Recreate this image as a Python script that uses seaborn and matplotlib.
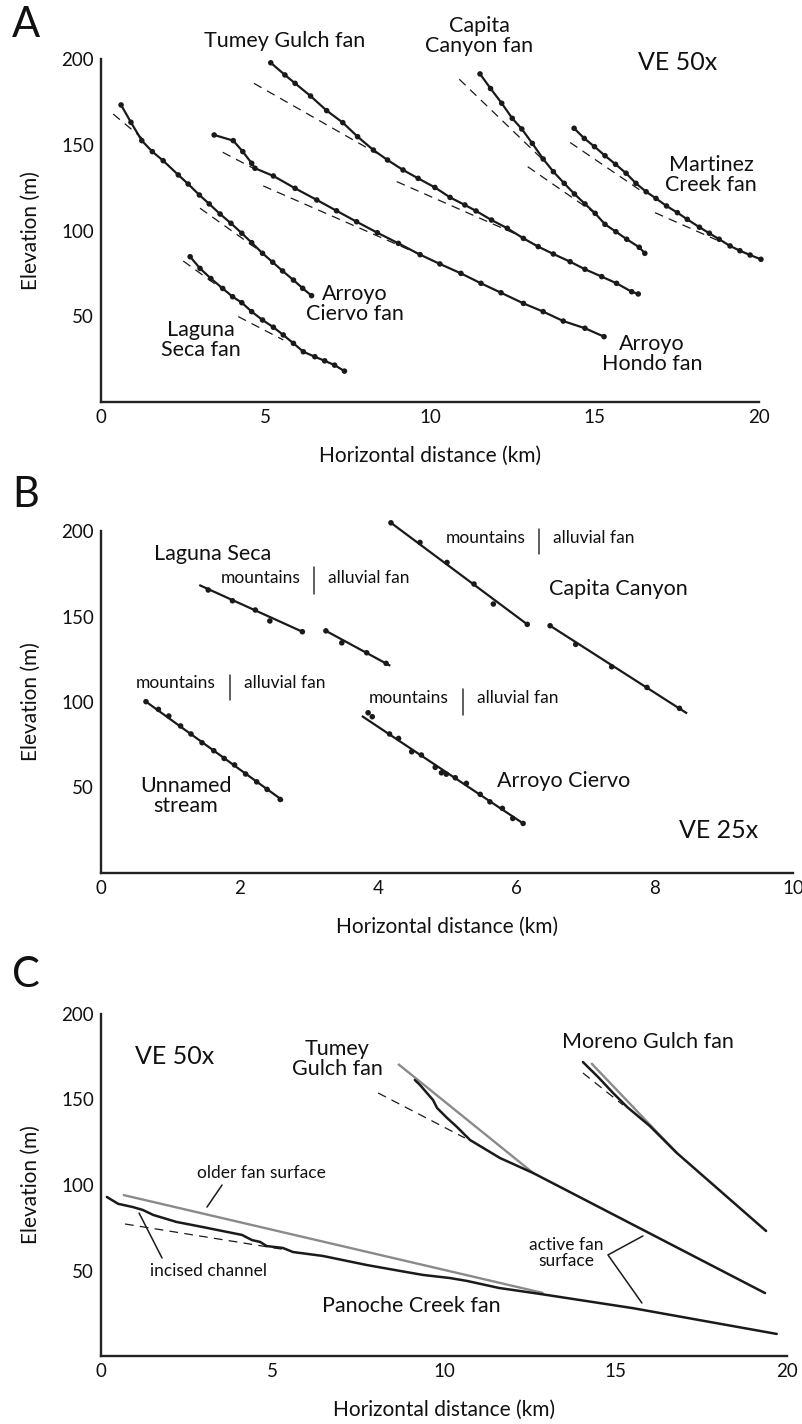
import matplotlib
matplotlib.use("Agg")
import matplotlib.pyplot as plt
import seaborn as sns
import pandas as pd

sns.set_theme(style="white")
plt.rcParams['font.family'] = ['Lato', 'DejaVu Sans']

INK = '#1a1a1a'
GREY = '#8a8a8a'

# ---------------- Panel A: longitudinal fan profiles (VE 50x) ----------------
tumey_a_x = [5.16, 5.59, 5.9, 6.37, 6.86, 7.35, 7.8, 8.28, 8.71, 9.18, 9.64, 10.15, 10.61,
             11.06, 11.4, 11.87, 12.35, 12.84, 13.29, 13.75, 14.26, 14.71, 15.22, 15.67, 16.13, 16.33]
tumey_a_y = [197.8, 190.7, 185.8, 178.4, 169.9, 162.9, 154.7, 146.9, 141.1, 135.3, 130.4, 125.1, 119.3,
             114.9, 111.4, 106.1, 101.3, 95.4, 90.6, 86.3, 81.8, 77.4, 73.1, 69.2, 64.3, 63.0]
capita_a_x = [11.52, 11.84, 12.18, 12.5, 12.79, 13.11, 13.44, 13.75, 14.08, 14.39, 14.71, 15.02,
              15.32, 15.65, 15.98, 16.36, 16.53]
capita_a_y = [191.3, 182.8, 174.2, 165.4, 159.2, 150.8, 141.7, 134.3, 127.5, 121.3, 115.5, 110.0,
              103.6, 99.3, 94.9, 90.2, 86.7]
martinez_x = [14.38, 14.69, 15.0, 15.32, 15.64, 15.96, 16.26, 16.57, 16.87, 17.19, 17.52, 17.82,
              18.19, 18.49, 18.79, 19.12, 19.42, 19.73, 20.06]
martinez_y = [159.6, 153.7, 148.9, 143.6, 138.6, 133.4, 127.5, 122.6, 118.7, 114.3, 110.4, 106.5,
              101.9, 98.4, 94.9, 91.0, 88.2, 85.7, 83.2]
ciervo_a_x = [0.61, 0.91, 1.24, 1.56, 1.89, 2.35, 2.65, 2.99, 3.29, 3.62, 3.95, 4.28, 4.58, 4.91,
              5.22, 5.52, 5.85, 6.13, 6.4]
ciervo_a_y = [173.2, 163.1, 152.4, 146.0, 140.7, 132.4, 127.1, 120.7, 115.5, 109.6, 104.2, 98.4,
              92.9, 86.7, 81.5, 76.4, 71.1, 66.3, 62.0]
laguna_a_x = [2.71, 3.01, 3.34, 3.7, 4.0, 4.28, 4.58, 4.91, 5.24, 5.54, 5.85, 6.15, 6.5, 6.8, 7.1, 7.4]
laguna_a_y = [84.7, 77.9, 72.0, 66.2, 61.4, 57.9, 52.7, 47.8, 43.6, 39.1, 34.2, 29.3, 26.4, 24.0, 21.5, 18.0]
hondo_x = [3.44, 4.02, 4.31, 4.58, 4.68, 5.24, 5.9, 6.56, 7.16, 7.77, 8.4, 9.04, 9.7, 10.3, 10.94,
           11.55, 12.16, 12.84, 13.44, 14.05, 14.71, 15.29]
hondo_y = [155.7, 152.4, 146.0, 139.2, 136.3, 131.8, 124.6, 117.8, 111.5, 105.1, 98.7, 92.5, 85.9,
           80.5, 75.0, 69.2, 63.7, 57.5, 52.7, 47.2, 43.0, 38.1]

# straight-segment gradients fitted to the upper and lower reaches (x0, y0, x1, y1)
fits_a = [
    (0.37, 167.9, 1.24, 154.0), (3.01, 113.0, 4.93, 86.7),
    (2.5, 82.2, 3.72, 65.3), (4.17, 49.8, 5.54, 36.2),
    (3.7, 145.6, 4.63, 136.3), (4.93, 126.0, 9.8, 85.1),
    (4.65, 185.8, 8.38, 145.0), (8.99, 128.5, 12.79, 96.4),
    (10.89, 188.2, 13.44, 141.1), (12.97, 137.2, 15.17, 108.0),
    (14.26, 151.3, 16.38, 123.6), (16.84, 110.4, 18.71, 94.5),
]

# ---------------- Panel B: stream profiles across the range front (VE 25x) ----------------
unnamed_x = [0.65, 0.83, 0.98, 1.15, 1.3, 1.46, 1.63, 1.78, 1.93, 2.09, 2.25, 2.4, 2.59]
unnamed_y = [100.2, 95.7, 91.8, 86.0, 81.3, 76.2, 71.5, 67.0, 63.2, 57.9, 53.3, 48.9, 43.0]
laguna_b1_x = [1.55, 1.9, 2.23, 2.44, 2.91]
laguna_b1_y = [165.5, 159.2, 153.8, 147.4, 141.1]
laguna_b2_x = [3.25, 3.48, 3.84, 4.12]
laguna_b2_y = [141.6, 134.6, 128.8, 122.6]
ciervo_b_x = [3.86, 3.92, 4.17, 4.3, 4.49, 4.63, 4.83, 4.92, 4.99, 5.12, 5.28, 5.48, 5.62, 5.8, 5.95, 6.1]
ciervo_b_y = [93.7, 91.4, 81.3, 78.7, 70.9, 69.0, 61.8, 58.6, 57.8, 55.7, 52.4, 46.0, 41.6, 37.8, 31.9, 29.0]
capita_b1_x = [4.19, 4.61, 5.0, 5.39, 5.67, 6.16]
capita_b1_y = [204.8, 193.3, 181.6, 169.0, 157.3, 145.4]
capita_b2_x = [6.49, 6.86, 7.38, 7.89, 8.36]
capita_b2_y = [144.6, 133.7, 120.6, 108.5, 96.3]

# regression lines through each reach (x0, y0, x1, y1)
fits_b = [
    (0.65, 100.2, 2.63, 42.3),
    (1.42, 168.4, 2.91, 141.1),
    (3.25, 141.6, 4.18, 121.2),
    (3.77, 91.8, 6.1, 29.0),
    (4.19, 204.8, 6.16, 145.4),
    (6.49, 144.6, 8.47, 93.3),
]
# mountain / fan boundary markers: (x, y_bottom, y_top)
fronts_b = [(3.08, 163.2, 178.9), (1.86, 101.2, 115.8), (6.33, 186.5, 201.2), (5.23, 92.4, 107.6)]
front_text_y = [172.5, 111.1, 195.9, 102.3]

# ---------------- Panel C: incised and active fan surfaces (VE 50x) ----------------
panoche_x = [0.17, 0.5, 0.93, 1.22, 1.52, 2.2, 2.97, 4.11, 4.4, 4.64, 4.83, 5.3, 5.6, 6.47, 7.75,
             8.9, 9.39, 10.17, 10.67, 11.6, 12.8, 15.5, 19.7]
panoche_y = [93.0, 89.0, 87.1, 85.4, 82.5, 78.4, 75.4, 70.8, 67.8, 66.7, 64.3, 63.2, 60.8, 58.5, 53.2,
             49.1, 47.4, 45.6, 43.9, 39.8, 36.3, 28.0, 12.9]
tumey_c_x = [9.15, 9.3, 9.68, 9.8, 10.09, 10.38, 10.76, 11.63, 12.6, 19.36]
tumey_c_y = [161.4, 158.5, 149.7, 145.0, 139.2, 133.9, 126.3, 115.8, 107.0, 36.8]
moreno_x = [14.05, 14.5, 14.93, 15.34, 16.0, 16.79, 19.39]
moreno_y = [171.9, 163.0, 153.8, 145.6, 134.5, 118.7, 73.1]

older_surfaces_c = [(0.64, 94.2, 12.9, 36.8), (8.66, 170.8, 12.6, 107.0), (14.29, 171.3, 16.79, 118.7)]
fits_c = [(0.70, 77.2, 5.42, 62.0), (8.08, 153.8, 10.61, 127.5), (14.05, 165.5, 15.22, 146.8)]
leader_older = ([3.53, 3.09], [100.0, 87.1])
leader_incised = ([1.11, 1.78], [83.6, 57.3])
leader_active = ([15.80, 14.78, 15.77], [70.2, 59.1, 31.0])

W, H = 803, 1424
fig = plt.figure(figsize=(W / 100, H / 100), dpi=100)
fig.patch.set_facecolor('white')


def px_rect(left, top, right, bottom):
    return [left / W, 1 - bottom / H, (right - left) / W, (bottom - top) / H]


axA = fig.add_axes(px_rect(101, 59, 759, 402))
axB = fig.add_axes(px_rect(101, 531, 793, 873))
axC = fig.add_axes(px_rect(101, 1014, 787, 1356))

LABEL = 15.5
SMALL = 12.5


def style_axes(ax, xmax, xticks):
    ax.set_xlim(0, xmax)
    ax.set_ylim(0, 200)
    ax.set_facecolor('white')
    for s in ['top', 'right']:
        ax.spines[s].set_visible(False)
    for s in ['left', 'bottom']:
        ax.spines[s].set_linewidth(1.7)
        ax.spines[s].set_color('#222222')
    ax.set_xticks(xticks)
    ax.set_xticklabels([str(t) for t in xticks])
    ax.set_yticks([50, 100, 150, 200])
    ax.tick_params(axis='both', direction='in', length=8, width=1.1, colors='#222222',
                   labelsize=13.5, labelcolor='#111111')
    ax.tick_params(axis='x', pad=5)
    ax.tick_params(axis='y', pad=5)
    ax.grid(False)
    ax.set_xlabel('Horizontal distance (km)', fontsize=15, color='#111111')
    ax.set_ylabel('Elevation (m)', fontsize=15, color='#111111')
    h = ax.get_position().height * H
    w = ax.get_position().width * W
    ax.xaxis.set_label_coords(0.5, -44 / h)
    ax.yaxis.set_label_coords(-60 / w, 0.5)


def profile(ax, xs, ys, marker=True, lw=1.6, color=INK):
    df = pd.DataFrame({'x': xs, 'y': ys})
    sns.lineplot(data=df, x='x', y='y', ax=ax, sort=False, estimator=None, color=color,
                 lw=lw, clip_on=False)
    if marker:
        sns.scatterplot(data=df, x='x', y='y', ax=ax, color=INK, s=16, edgecolor='none',
                        clip_on=False, zorder=3)


def segment(ax, seg, style='-', lw=1.6, color=INK):
    x0, y0, x1, y1 = seg
    ax.plot([x0, x1], [y0, y1], linestyle=style, lw=lw, color=color, clip_on=False,
            solid_capstyle='butt')


DASH = (0, (7, 5))

# ---- A ----
for xs, ys in [(tumey_a_x, tumey_a_y), (capita_a_x, capita_a_y), (martinez_x, martinez_y),
               (ciervo_a_x, ciervo_a_y), (laguna_a_x, laguna_a_y), (hondo_x, hondo_y)]:
    profile(axA, xs, ys)
for seg in fits_a:
    segment(axA, seg, style=DASH, lw=0.9)
style_axes(axA, 20, [0, 5, 10, 15, 20])
txt = dict(ha='center', va='center', color='#111111', linespacing=1.0)
axA.text(5.59, 210.5, 'Tumey Gulch fan', fontsize=LABEL, **txt)
axA.text(11.49, 213.4, 'Capita\nCanyon fan', fontsize=LABEL, **txt)
axA.text(17.54, 197.7, 'VE 50x', fontsize=18, **txt)
axA.text(18.54, 132.1, 'Martinez\nCreek fan', fontsize=LABEL, **txt)
axA.text(16.75, 28.0, 'Arroyo\nHondo fan', fontsize=LABEL, **txt)
axA.text(7.72, 56.9, 'Arroyo\nCiervo fan', fontsize=LABEL, **txt)
axA.text(3.04, 35.9, 'Laguna\nSeca fan', fontsize=LABEL, **txt)

# ---- B ----
for seg in fits_b:
    segment(axB, seg, lw=1.6)
for xs, ys in [(unnamed_x, unnamed_y), (laguna_b1_x, laguna_b1_y), (laguna_b2_x, laguna_b2_y),
               (ciervo_b_x, ciervo_b_y), (capita_b1_x, capita_b1_y), (capita_b2_x, capita_b2_y)]:
    sns.scatterplot(x=xs, y=ys, ax=axB, color=INK, s=16, edgecolor='none', clip_on=False, zorder=3)
for (fx, fy0, fy1), ty in zip(fronts_b, front_text_y):
    axB.plot([fx, fx], [fy0, fy1], color='#333333', lw=1.1, clip_on=False)
    axB.text(fx - 0.2, ty, 'mountains', ha='right', va='center', fontsize=SMALL, color='#111111')
    axB.text(fx + 0.2, ty, 'alluvial fan', ha='left', va='center', fontsize=SMALL, color='#111111')
style_axes(axB, 10, [0, 2, 4, 6, 8, 10])
axB.text(1.62, 186.5, 'Laguna Seca', fontsize=LABEL, **txt)
axB.text(1.23, 45.3, 'Unnamed\nstream', fontsize=LABEL, **txt)
axB.text(7.47, 166.1, 'Capita Canyon', fontsize=LABEL, **txt)
axB.text(6.68, 53.8, 'Arroyo Ciervo', fontsize=LABEL, **txt)
axB.text(8.92, 25.1, 'VE 25x', fontsize=18, **txt)

# ---- C ----
for seg in older_surfaces_c:
    segment(axC, seg, lw=1.7, color=GREY)
for seg in fits_c:
    segment(axC, seg, style=DASH, lw=0.9)
for xs, ys in [(panoche_x, panoche_y), (tumey_c_x, tumey_c_y), (moreno_x, moreno_y)]:
    profile(axC, xs, ys, marker=False, lw=1.8)
for lx, ly in [leader_older, leader_incised, leader_active]:
    axC.plot(lx, ly, color=INK, lw=1.1)
style_axes(axC, 20, [0, 5, 10, 15, 20])
axC.text(2.16, 174.9, 'VE 50x', fontsize=18, **txt)
axC.text(6.88, 173.4, 'Tumey\nGulch fan', fontsize=LABEL, **txt)
axC.text(15.95, 183.6, 'Moreno Gulch fan', fontsize=LABEL, **txt)
axC.text(4.69, 107.0, 'older fan surface', fontsize=SMALL, **txt)
axC.text(3.12, 49.7, 'incised channel', fontsize=SMALL, **txt)
axC.text(9.04, 29.2, 'Panoche Creek fan', fontsize=LABEL, **txt)
axC.text(13.56, 60.5, 'active fan\nsurface', fontsize=SMALL, **txt)

# panel letters
for letter, ypx in [('A', 25), ('B', 495), ('C', 975)]:
    fig.text(26 / W, 1 - ypx / H, letter, fontsize=30, ha='center', va='center', color='#111111')

fig.savefig('out.png', dpi=100, facecolor='white')
